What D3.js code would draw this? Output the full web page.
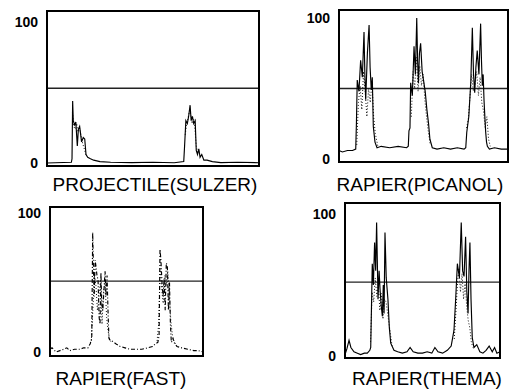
<!DOCTYPE html>
<html>
<head>
<meta charset="utf-8">
<script src="https://cdn.jsdelivr.net/npm/d3@7"></script>
<style>
body{margin:0;background:#fff}
svg{display:block}
</style>
</head>
<body>
<div id="container"></div>
<script>
// time within the cycle (%) and signal level (%)
const sulzerT = [0, 11.5, 11.8, 12.1, 12.4, 13.0, 13.6, 14.3, 14.8, 15.4, 16.3, 17.1, 17.8, 18.4, 19.2, 20.5, 22, 25, 30, 40, 50, 60, 64.5, 64.9, 65.5, 66.2, 66.8, 67.5, 68.0, 68.6, 69.2, 69.9, 70.4, 71, 71.6, 72.2, 73, 74, 75.5, 78, 82, 90, 100];
const sulzerV = [0, 0.5, 3, 44, 30, 27, 29, 12, 24, 26, 15, 18, 17, 6, 4, 3, 2, 1, 0.5, 0.3, 0.5, 0.2, 1, 12, 30, 28, 33, 41, 30, 33, 28, 30, 9, 6, 10, 4, 6, 2, 2, 1, 0.3, 0.5, 0.2];
const sulzerT2 = [12.0, 12.6, 13.3, 14.0, 14.6, 15.3, 16.0, 16.8, 17.6, 18.5, null, 65.2, 65.8, 66.4, 67.1, 67.8, 68.4, 69.2, 69.8, 70.4, 71.2];
const sulzerV2 = [36, 26, 24, 28, 22, 25, 20, 14, 10, 5, null, 20, 27, 31, 36, 35, 28, 31, 24, 12, 7];

const picanolT = [0, 2, 5, 8, 9.9, 10.3, 10.8, 11.8, 12.8, 13.8, 14.8, 15.3, 15.8, 16.8, 17.8, 18.4, 19.1, 19.7, 20.3, 21.3, 22.5, 25, 30, 35, 40, 41.0, 41.4, 42.0, 42.4, 43.4, 44.4, 45.2, 46.0, 46.5, 47.0, 47.6, 48.3, 49.2, 50.0, 51, 52.0, 53, 53.8, 55.2, 58, 62, 66, 70, 74, 75.0, 75.6, 76.8, 78.0, 78.9, 79.6, 80.3, 81.0, 81.8, 82.8, 83.8, 84.3, 84.8, 85.3, 85.8, 86.3, 86.8, 87.3, 87.8, 89, 92, 96, 100];
const picanolV = [6, 5, 6, 6, 7, 25, 56, 48, 70, 58, 90, 60, 42, 75, 95, 65, 49, 58, 23, 12, 8, 9, 8, 9, 8, 9, 20, 22, 54, 45, 80, 60, 100, 70, 54, 75, 82, 62, 56, 48, 35, 25, 14, 8, 7, 8, 7, 8, 7, 8, 19, 30, 55, 93, 60, 47, 65, 77, 60, 96, 70, 52, 60, 42, 30, 19, 12, 9, 7, 8, 7, 7];
const picanolT2 = [10.5, 11.5, 12.5, 13.5, 14.5, 15.5, 16.5, 17.5, 18.5, 19.5, 20.5, 21.5, 23, null, 42.8, 43.8, 44.8, 45.8, 46.8, 47.8, 48.8, 49.8, 50.8, 51.8, 52.8, 54.0, null, 75.5, 76.5, 77.5, 78.5, 79.5, 80.5, 81.5, 82.5, 83.5, 84.5, 85.5, 86.5, 87.5, 88.5, 89.5];
const picanolV2 = [10, 40, 52, 35, 62, 48, 30, 50, 40, 55, 30, 18, 9, null, 30, 62, 50, 72, 48, 66, 52, 60, 42, 30, 20, 10, null, 22, 28, 44, 60, 48, 52, 62, 45, 58, 40, 34, 22, 30, 14, 9];

const fastT = [0, 1.3, 4, 6.5, 9, 11, 13, 16, 19.6, 22, 24.8, 26.3, 27.3, 27.9, 28.4, 28.9, 29.5, 30, 30.7, 31.4, 32.1, 32.7, 33.3, 33.8, 34.5, 35.3, 36, 36.6, 37.3, 37.9, 38.5, 38.9, 40.5, 43, 45.8, 49, 52.3, 56, 60, 64, 67, 69, 70.5, 71.3, 71.9, 72.5, 73.2, 73.9, 74.6, 75.3, 76, 76.7, 77.4, 78.1, 78.7, 79.3, 79.9, 80.4, 81.0, 81.6, 83, 86, 90, 94, 97, 100];
const fastV = [2, 3, 0, 1, 2, 3, 1, 2, 2, 3, 3, 6, 10, 86, 60, 40, 66, 62, 55, 52, 25, 20, 57, 35, 30, 45, 58, 40, 55, 30, 10, 9, 8, 6, 4, 3, 2, 2, 2, 3, 4, 6, 7, 12, 74, 66, 50, 40, 53, 30, 64, 62, 30, 50, 20, 7, 8, 10, 7, 6, 4, 3, 2, 1, 1, 0];
const fastT2 = [27.0, 28.0, 29.0, 30.0, 31.0, 32.0, 33.0, 34.0, 35.0, 36.0, 37.0, 38.0, 39.0, 40.0, null, 70.0, 71.0, 72.0, 73.0, 74.0, 75.0, 76.0, 77.0, 78.0, 79.0, 80.0, 81.0, 82.0];
const fastV2 = [8, 30, 55, 48, 30, 40, 52, 20, 44, 50, 25, 15, 9, 7, null, 8, 20, 60, 45, 35, 55, 48, 58, 40, 22, 12, 8, 6];

const themaT = [0, 1.2, 2.6, 3.8, 5.8, 8, 10.1, 12.5, 14.4, 16.0, 16.6, 17.6, 18.3, 19.1, 19.8, 20.4, 21.3, 22.0, 22.6, 23.4, 24.1, 24.7, 25.2, 25.8, 26.6, 27.7, 28.6, 29.5, 31.6, 34, 37, 40, 42, 44, 47, 50, 53, 56, 58, 60, 63, 66, 68.5, 70.3, 71.4, 72.5, 73.8, 75.0, 75.9, 76.8, 77.8, 78.6, 79.4, 80.0, 80.6, 81.3, 82.1, 83.2, 85, 87, 89, 91, 93, 95, 96.5, 98, 100];
const themaV = [1, 5, 11, 6, 3, 2, 1, 2, 2, 4, 6, 65, 50, 80, 60, 94, 40, 60, 47, 35, 28, 50, 30, 87, 55, 40, 20, 9, 4, 3, 2, 3, 6, 3, 2, 2, 3, 2, 6, 3, 2, 4, 7, 18, 40, 65, 55, 94, 60, 56, 84, 45, 30, 60, 80, 40, 13, 6, 8, 3, 2, 4, 7, 3, 6, 2, 3];
const themaT2 = [16.5, 17.5, 18.5, 19.5, 20.5, 21.5, 22.5, 23.5, 24.5, 25.5, 26.5, 27.5, 28.5, 29.5, 30.5, null, 70.5, 71.5, 72.5, 73.5, 74.5, 75.5, 76.5, 77.5, 78.5, 79.5, 80.5, 81.5, 82.5];
const themaV2 = [10, 45, 38, 55, 42, 50, 32, 44, 26, 40, 38, 30, 22, 14, 6, null, 12, 30, 50, 62, 45, 58, 40, 52, 35, 25, 20, 10, 6];

const names = ["PROJECTILE(SULZER)", "RAPIER(PICANOL)", "RAPIER(FAST)", "RAPIER(THEMA)"];
const limits = [53, 50, 51, 52];
const yTicks = [0, 100];

// box placement of each panel
const panels = [
  {t: sulzerT, v: sulzerV, t2: sulzerT2, v2: sulzerV2, x0: 47, x1: 259, top: 11, bottom: 166, y0: 163, y100: 22, lx: 155, ly: 191, dash: null},
  {t: picanolT, v: picanolV, t2: picanolT2, v2: picanolV2, x0: 339, x1: 508, top: 10, bottom: 162, y0: 159, y100: 18, lx: 420, ly: 191, dash: null},
  {t: fastT, v: fastV, t2: fastT2, v2: fastV2, x0: 50, x1: 203, top: 207, bottom: 356, y0: 352, y100: 213, lx: 121, ly: 385, dash: "4,2,1,2"},
  {t: themaT, v: themaV, t2: themaT2, v2: themaV2, x0: 345, x1: 500, top: 203, bottom: 358, y0: 356, y100: 214, lx: 427, ly: 385, dash: null}
];

let svg = d3.select("#container")
  .append("svg")
  .attr("width", 528)
  .attr("height", 392);

panels.forEach(function(p, i) {
  let x = d3.scaleLinear().domain([0, 100]).range([p.x0, p.x1]);
  let y = d3.scaleLinear().domain([0, 100]).range([p.y0, p.y100]);
  let g = svg.append("g");

  // threshold line
  g.append("line")
    .attr("x1", p.x0).attr("x2", p.x1)
    .attr("y1", y(limits[i])).attr("y2", y(limits[i]))
    .attr("stroke", "#222")
    .attr("stroke-width", 1.3);

  let line = d3.line()
    .defined(d => d[0] != null && d[1] != null)
    .x(d => x(d[0]))
    .y(d => y(d[1]));

  g.append("path")
    .datum(d3.zip(p.t2, p.v2))
    .attr("d", line)
    .attr("fill", "none")
    .attr("stroke", "#111")
    .attr("stroke-width", 1)
    .attr("stroke-dasharray", "1,2");

  g.append("path")
    .datum(d3.zip(p.t, p.v))
    .attr("d", line)
    .attr("fill", "none")
    .attr("stroke", "#000")
    .attr("stroke-width", 1.15)
    .attr("stroke-dasharray", p.dash);

  // frame
  g.append("rect")
    .attr("x", p.x0).attr("y", p.top)
    .attr("width", p.x1 - p.x0).attr("height", p.bottom - p.top)
    .attr("fill", "none")
    .attr("stroke", "#000")
    .attr("stroke-width", 2);

  let axis = d3.axisLeft(y).tickValues(yTicks).tickSize(0).tickPadding(9);
  let ax = g.append("g")
    .attr("transform", "translate(" + p.x0 + ",0)")
    .call(axis);
  ax.select(".domain").remove();
  ax.selectAll("text")
    .attr("font-family", "Liberation Sans, Arial, sans-serif")
    .attr("font-weight", "bold")
    .attr("font-size", 14)
    .attr("fill", "#000");

  g.append("text")
    .text(names[i])
    .attr("x", p.lx)
    .attr("y", p.ly)
    .attr("text-anchor", "middle")
    .attr("font-family", "Liberation Sans, Arial, sans-serif")
    .attr("font-size", 19)
    .attr("fill", "#000");
});
</script>
</body>
</html>
